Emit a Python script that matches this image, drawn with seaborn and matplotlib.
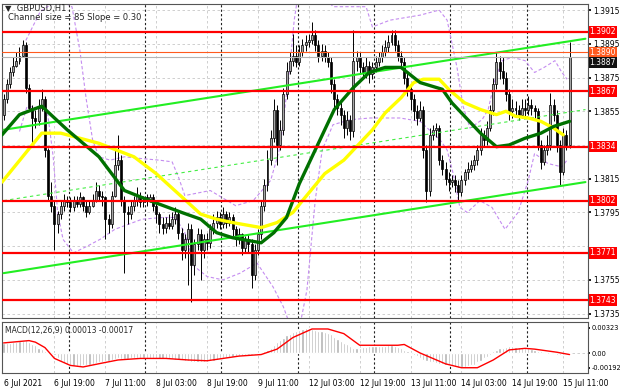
import numpy as np
import pandas as pd
import matplotlib
matplotlib.use("Agg")
import matplotlib.pyplot as plt
import seaborn as sns

# GBPUSD H1, 6 Jul 03:00 .. 15 Jul 13:00 (one value per hourly bar)
first_open = 1.3853
close = [
    1.3862, 1.3871, 1.3878, 1.3882, 1.3885, 1.3888, 1.3894, 1.3869, 1.3857, 1.3851,
    1.3849, 1.3857, 1.3862, 1.3832, 1.3805, 1.3799, 1.3788, 1.3794, 1.3799, 1.3802,
    1.3801, 1.3798, 1.3802, 1.3800, 1.3804, 1.3799, 1.3795, 1.3799, 1.3802, 1.3808,
    1.3805, 1.3804, 1.3791, 1.3788, 1.3805, 1.3823, 1.3826, 1.3802, 1.3795, 1.3794,
    1.3799, 1.3802, 1.3805, 1.3801, 1.3804, 1.3802, 1.3804, 1.3799, 1.3794, 1.3788,
    1.3786, 1.3789, 1.3787, 1.3791, 1.3794, 1.3783, 1.3773, 1.3779, 1.3785, 1.3764,
    1.3776, 1.3782, 1.3773, 1.3779, 1.3777, 1.3785, 1.3789, 1.3792, 1.3788, 1.3794,
    1.3789, 1.3792, 1.3785, 1.3779, 1.3782, 1.3774, 1.3779, 1.3776, 1.3758, 1.3773,
    1.3782, 1.3799, 1.3811, 1.3826, 1.3839, 1.3856, 1.3835, 1.3844, 1.3865, 1.3879,
    1.3885, 1.3888, 1.3884, 1.3890, 1.3894, 1.3896, 1.3897, 1.3900, 1.3894, 1.3888,
    1.3891, 1.3887, 1.3884, 1.3871, 1.3862, 1.3857, 1.3853, 1.3845, 1.3850, 1.3843,
    1.3885, 1.3887, 1.3881, 1.3878, 1.3882, 1.3877, 1.3881, 1.3884, 1.3887, 1.3890,
    1.3893, 1.3896, 1.3900, 1.3894, 1.3888, 1.3884, 1.3875, 1.3868, 1.3862, 1.3855,
    1.3851, 1.3856, 1.3832, 1.3808, 1.3841, 1.3844, 1.3845, 1.3826, 1.3821, 1.3815,
    1.3813, 1.3814, 1.3811, 1.3807, 1.3814, 1.3819, 1.3821, 1.3823, 1.3826, 1.3832,
    1.3841, 1.3838, 1.3845, 1.3856, 1.3871, 1.3884, 1.3879, 1.3875, 1.3865, 1.3855,
    1.3857, 1.3856, 1.3853, 1.3857, 1.3856, 1.3859, 1.3857, 1.3855, 1.3835, 1.3825,
    1.3832, 1.3835, 1.3859, 1.3853, 1.3835, 1.3819, 1.3841, 1.3835, 1.3887]
high = [
    1.3865, 1.3874, 1.3881, 1.3887, 1.3890, 1.3893, 1.3897, 1.3896, 1.3871, 1.3859,
    1.3856, 1.3862, 1.3868, 1.3864, 1.3833, 1.3813, 1.3802, 1.3796, 1.3802, 1.3806,
    1.3805, 1.3804, 1.3805, 1.3805, 1.3807, 1.3805, 1.3802, 1.3802, 1.3806, 1.3813,
    1.3811, 1.3808, 1.3805, 1.3794, 1.3808, 1.3832, 1.3841, 1.3829, 1.3805, 1.3799,
    1.3802, 1.3805, 1.3810, 1.3807, 1.3805, 1.3806, 1.3806, 1.3806, 1.3802, 1.3795,
    1.3792, 1.3792, 1.3794, 1.3795, 1.3798, 1.3795, 1.3786, 1.3782, 1.3789, 1.3788,
    1.3779, 1.3786, 1.3785, 1.3782, 1.3783, 1.3788, 1.3794, 1.3796, 1.3795, 1.3798,
    1.3796, 1.3795, 1.3794, 1.3787, 1.3786, 1.3783, 1.3781, 1.3782, 1.3779, 1.3776,
    1.3785, 1.3802, 1.3815, 1.3832, 1.3844, 1.3862, 1.3859, 1.3850, 1.3869, 1.3884,
    1.3890, 1.3901, 1.3894, 1.3894, 1.3898, 1.3900, 1.3901, 1.3908, 1.3903, 1.3897,
    1.3895, 1.3894, 1.3890, 1.3887, 1.3874, 1.3865, 1.3861, 1.3856, 1.3855, 1.3853,
    1.3903, 1.3891, 1.3890, 1.3884, 1.3887, 1.3885, 1.3884, 1.3888, 1.3890, 1.3894,
    1.3897, 1.3900, 1.3903, 1.3903, 1.3897, 1.3891, 1.3887, 1.3878, 1.3870, 1.3865,
    1.3859, 1.3861, 1.3858, 1.3835, 1.3845, 1.3847, 1.3848, 1.3847, 1.3829, 1.3825,
    1.3819, 1.3817, 1.3817, 1.3814, 1.3817, 1.3821, 1.3825, 1.3826, 1.3829, 1.3835,
    1.3845, 1.3844, 1.3849, 1.3859, 1.3875, 1.3890, 1.3888, 1.3887, 1.3878, 1.3868,
    1.3862, 1.3861, 1.3859, 1.3862, 1.3862, 1.3864, 1.3862, 1.3859, 1.3857, 1.3838,
    1.3835, 1.3841, 1.3866, 1.3862, 1.3856, 1.3838, 1.3845, 1.3844, 1.3896]
low = [
    1.3850, 1.3860, 1.3869, 1.3876, 1.3881, 1.3883, 1.3887, 1.3866, 1.3855, 1.3834,
    1.3845, 1.3847, 1.3855, 1.3828, 1.3802, 1.3795, 1.3773, 1.3783, 1.3791, 1.3796,
    1.3798, 1.3795, 1.3796, 1.3798, 1.3798, 1.3796, 1.3792, 1.3794, 1.3798, 1.3801,
    1.3802, 1.3799, 1.3779, 1.3783, 1.3786, 1.3804, 1.3820, 1.3799, 1.3759, 1.3788,
    1.3791, 1.3796, 1.3799, 1.3798, 1.3798, 1.3799, 1.3801, 1.3796, 1.3789, 1.3783,
    1.3782, 1.3783, 1.3785, 1.3785, 1.3788, 1.3779, 1.3767, 1.3768, 1.3752, 1.3742,
    1.3758, 1.3773, 1.3755, 1.3768, 1.3773, 1.3774, 1.3782, 1.3786, 1.3785, 1.3786,
    1.3786, 1.3787, 1.3781, 1.3775, 1.3776, 1.3770, 1.3771, 1.3771, 1.3750, 1.3755,
    1.3770, 1.3779, 1.3796, 1.3808, 1.3823, 1.3837, 1.3823, 1.3832, 1.3841, 1.3862,
    1.3877, 1.3882, 1.3881, 1.3882, 1.3888, 1.3891, 1.3893, 1.3895, 1.3891, 1.3884,
    1.3885, 1.3884, 1.3881, 1.3866, 1.3857, 1.3853, 1.3847, 1.3839, 1.3841, 1.3838,
    1.3840, 1.3879, 1.3877, 1.3874, 1.3875, 1.3872, 1.3874, 1.3878, 1.3882, 1.3884,
    1.3888, 1.3890, 1.3894, 1.3891, 1.3885, 1.3881, 1.3871, 1.3864, 1.3856, 1.3850,
    1.3847, 1.3849, 1.3827, 1.3801, 1.3805, 1.3838, 1.3840, 1.3823, 1.3817, 1.3811,
    1.3808, 1.3810, 1.3807, 1.3802, 1.3805, 1.3811, 1.3815, 1.3819, 1.3820, 1.3823,
    1.3829, 1.3834, 1.3835, 1.3843, 1.3853, 1.3868, 1.3874, 1.3871, 1.3861, 1.3850,
    1.3851, 1.3852, 1.3850, 1.3851, 1.3852, 1.3853, 1.3853, 1.3851, 1.3832, 1.3821,
    1.3823, 1.3829, 1.3832, 1.3849, 1.3831, 1.3811, 1.3817, 1.3832, 1.3833]

# moving averages, read at a few bars
ma_green_bar = [-0.5, 5, 12, 20, 30, 38, 46, 56, 62, 67, 72, 81, 85, 89, 93, 99, 104, 110,
                115, 120, 125, 131, 138, 141, 146, 150, 155, 159, 164, 169, 173, 178]
ma_green = [1.3841, 1.3853, 1.3858, 1.3844, 1.3828, 1.3808, 1.3802, 1.3795, 1.3791, 1.3783,
            1.3780, 1.3777, 1.3783, 1.3792, 1.3812, 1.3836, 1.3856, 1.3869, 1.3878, 1.3881,
            1.3881, 1.3872, 1.3868, 1.3860, 1.3850, 1.3842, 1.3834, 1.3835, 1.3839, 1.3842,
            1.3846, 1.3849]
ma_yellow_bar = [-0.5, 12, 18, 30, 41, 48, 55, 62, 67, 72, 81, 86, 91, 94, 101, 107, 112,
                 116, 120, 125, 129, 132, 137, 140, 145, 150, 155, 158, 161, 165, 169, 173, 176]
ma_yellow = [1.3813, 1.3842, 1.3842, 1.3836, 1.3828, 1.3818, 1.3806, 1.3794, 1.3791, 1.3789,
             1.3786, 1.3789, 1.3795, 1.3802, 1.3818, 1.3826, 1.3836, 1.3844, 1.3854, 1.3863,
             1.3872, 1.3874, 1.3874, 1.3868, 1.3860, 1.3856, 1.3853, 1.3855, 1.3852, 1.3851,
             1.3849, 1.3845, 1.3841]

# envelope bands (violet dashed)
band_up_bar = [7, 11.5, 14.6, 18.4, 21.5, 24, 26, 28, 30, 33.5, 38, 43, 49, 53, 55, 57, 65, 73,
               78.5, 84, 87, 90, 91.4, 92.6, 98, 103.6, 109, 114, 116, 121.5, 131, 137, 139.5,
               142.6, 144.5, 146.7, 150.5, 152.4, 154.6, 156.8, 160, 164, 167, 170, 173.4, 175.6, 177.2]
band_up = [1.3897, 1.3914, 1.3918, 1.3920, 1.3917, 1.3891, 1.3862, 1.3838, 1.3828, 1.3826,
           1.3828, 1.3827, 1.3826, 1.3825, 1.3816, 1.3805, 1.3808, 1.3799, 1.3802, 1.3814,
           1.3834, 1.3881, 1.3909, 1.3924, 1.3930, 1.3917, 1.3917, 1.3917, 1.3905, 1.3909,
           1.3912, 1.3915, 1.3909, 1.3881, 1.3858, 1.3845, 1.3850, 1.3856, 1.3874, 1.3885,
           1.3887, 1.3885, 1.3878, 1.3881, 1.3885, 1.3878, 1.3874]
band_lo_bar = [5, 7.4, 13.7, 15.6, 17, 18.7, 22, 26.3, 30.3, 35, 43.6, 50, 54, 57, 60, 64, 69,
               74.4, 79.7, 84.7, 88, 90.7, 93.2, 95.4, 98, 100.2, 103.6, 109, 115.3, 124.7, 131,
               137.3, 139.5, 141.4, 143.5, 145.8, 149.8, 153.6, 157.7, 161.8, 165, 167, 171.2,
               175.6, 177.2]
band_lo = [1.3843, 1.3858, 1.3856, 1.3828, 1.3795, 1.3779, 1.3771, 1.3775, 1.3779, 1.3785,
           1.3791, 1.3792, 1.3792, 1.3783, 1.3763, 1.3757, 1.3755, 1.3759, 1.3765, 1.3751,
           1.3739, 1.3725, 1.3728, 1.3749, 1.3802, 1.3832, 1.3847, 1.3850, 1.3851, 1.3851,
           1.3849, 1.3838, 1.3832, 1.3818, 1.3798, 1.3795, 1.3802, 1.3798, 1.3785, 1.3795,
           1.3814, 1.3830, 1.3824, 1.3822, 1.3826]

# regression channel ends (bar 0 and bar 183)
chan_bar = [0, 183]
chan_top = [1.3844, 1.3898]
chan_mid = [1.3802, 1.3856]
chan_bot = [1.3759, 1.3813]

levels = [1.3902, 1.3867, 1.3834, 1.3802, 1.3771, 1.3743]
ask_line = 1.3890
last_price = 1.3887
grid_prices = [1.3915, 1.3895, 1.3875, 1.3855, 1.3835, 1.3815, 1.3795, 1.3775, 1.3755, 1.3735]
price_ticks = [1.3915, 1.3895, 1.3875, 1.3855, 1.3815, 1.3795, 1.3755, 1.3735]

# MACD main (x1e-4), one per bar
macd = [13, 13, 13, 14, 14, 15, 16, 17, 14, 12, 10, 7, 5, 3, 1, 0, -3, -7, -10, -13,
        -15, -16, -17, -17, -17, -16, -16, -15, -14, -13, -12, -11, -10, -10, -9, -8, -7, -8,
        -8, -8, -7, -7, -7, -6, -6, -7, -7, -7, -8, -8, -8, -8, -8, -8, -9, -9, -9,
        -10, -10, -11, -11, -12, -11, -11, -11, -10, -10, -9, -8, -7, -6, -6, -5, -5, -4, -4,
        -3, -3, -2, -2, -1, -1, 2, 4, 7, 10, 14, 17, 20, 23, 25, 27, 29, 30, 31, 32, 32,
        31, 30, 29, 28, 27, 26, 24, 21, 18, 15, 13, 11, 9, 7, 7, 7, 8, 8, 9, 9, 9, 9, 9,
        9, 10, 10, 9, 8, 6, 4, 2, 0, -2, -4, -7, -9, -10, -11, -12, -13, -14, -14, -15,
        -16, -17, -18, -19, -19, -18, -17, -16, -15, -12, -10, -7, -5, -2, 2, 4, 6, 7, 8,
        9, 9, 8, 8, 7, 7, 6, 5, 4, 3, 2, 1, 0, -1, -1, -2, -2, -2, -1, 1]
sig_bar = [0, 8, 10, 13, 16, 21, 25, 31, 36, 43, 51, 58, 64, 69, 74, 81, 86, 91, 97, 102,
           107, 112, 124, 126, 131, 139, 144, 149, 154, 159, 164, 167, 174, 178]
sig_val = [13, 16, 14, 7, -7, -16, -18, -13, -9, -7, -7, -9, -10, -7, -4, -2, 5, 20, 31, 31,
           25, 10, 10, 11, 0, -14, -19, -19, -9, 4, 6, 5, 1, -2]

time_labels = ["6 Jul 2021", "6 Jul 19:00", "7 Jul 11:00", "8 Jul 03:00", "8 Jul 19:00",
               "9 Jul 11:00", "12 Jul 03:00", "12 Jul 19:00", "13 Jul 11:00", "14 Jul 03:00",
               "14 Jul 19:00", "15 Jul 11:00"]
label_bars = [0, 16, 32, 48, 64, 80, 96, 112, 128, 144, 160, 176]
day_bars = [21, 45, 69, 93, 117, 141, 165]

sns.set_theme(style="white")
plt.rcParams["font.family"] = ["DejaVu Sans"]

df = pd.DataFrame({"close": close, "high": high, "low": low})
df["open"] = [first_open] + close[:-1]
df["bar"] = np.arange(len(df))
up = df["close"] >= df["open"]

fig = plt.figure(figsize=(6.2, 3.88), dpi=100)
ax = fig.add_axes([2 / 620, 1 - 318 / 388, 586 / 620, 314 / 388])
axm = fig.add_axes([2 / 620, 1 - 373 / 388, 586 / 620, 51 / 388])

grid_kw = dict(color="#c8c8c8", lw=0.6, ls=(0, (3, 3)), zorder=0)
for a in (ax, axm):
    for b in label_bars[1:]:
        a.axvline(b, **grid_kw)
    for b in day_bars:
        a.axvline(b - 0.5, color="#222222", lw=0.8, ls=(0, (2, 2)), zorder=1)
for p in grid_prices:
    ax.axhline(p, **grid_kw)
axm.axhline(0, **grid_kw)

# candles
ax.vlines(df["bar"], df["low"], df["high"], color="black", lw=0.7, zorder=3)
ax.bar(df["bar"][up], (df["close"] - df["open"])[up].clip(lower=0.00003), bottom=df["open"][up],
       width=0.62, color="#a6a6a6", edgecolor="black", lw=0.5, zorder=4)
ax.bar(df["bar"][~up], (df["open"] - df["close"])[~up], bottom=df["close"][~up],
       width=0.62, color="black", edgecolor="black", lw=0.5, zorder=4)

# channel
sns.lineplot(x=chan_bar, y=chan_top, ax=ax, color="#22ee22", lw=1.5, zorder=5)
sns.lineplot(x=chan_bar, y=chan_bot, ax=ax, color="#22ee22", lw=1.5, zorder=5)
sns.lineplot(x=chan_bar, y=chan_mid, ax=ax, color="#44ee44", lw=0.8, ls=(0, (3, 3)), zorder=5)

# bands and averages
sns.lineplot(x=band_up_bar, y=band_up, ax=ax, color="#c48cf0", lw=0.8, ls=(0, (3, 2)), zorder=2)
sns.lineplot(x=band_lo_bar, y=band_lo, ax=ax, color="#c48cf0", lw=0.8, ls=(0, (3, 2)), zorder=2)
sns.lineplot(x=ma_yellow_bar, y=ma_yellow, ax=ax, color="#ffff00", lw=2.4, zorder=6)
sns.lineplot(x=ma_green_bar, y=ma_green, ax=ax, color="#007000", lw=2.4, zorder=6)

# horizontal levels
for lv in levels:
    ax.axhline(lv, color="#ff0000", lw=1.6, zorder=7)
ax.axhline(ask_line, color="#ff5a1e", lw=0.8, zorder=7)
ax.axhline(last_price, color="#b4b4b4", lw=0.8, zorder=7)

ax.set_xlim(-0.5, 183.8)
ax.set_ylim(1.37324, 1.39186)
ax.set_xticks([])
ax.yaxis.tick_right()
ax.set_yticks(price_ticks)
ax.set_yticklabels([f"{p:.4f}" for p in price_ticks], fontsize=5.5)
ax.tick_params(axis="y", length=2, pad=2, colors="black")

lab_kw = dict(xycoords=("axes fraction", "data"), textcoords="offset points",
              ha="left", va="center", fontsize=5.5, annotation_clip=False, zorder=10)
for lv in levels:
    ax.annotate(f"{lv:.4f}", xy=(1, lv), xytext=(1.2, 0), color="white",
                bbox=dict(boxstyle="square,pad=0.15", fc="#ff0000", ec="none"), **lab_kw)
ax.annotate(f"{ask_line:.4f}", xy=(1, ask_line), xytext=(1.2, -0.5), color="white",
            bbox=dict(boxstyle="square,pad=0.15", fc="#ff5a1e", ec="none"), **lab_kw)
ax.annotate(f"{last_price:.4f}", xy=(1, last_price), xytext=(1.2, -3.5), color="white",
            bbox=dict(boxstyle="square,pad=0.15", fc="#111111", ec="none"), **lab_kw)

# MACD panel
axm.bar(df["bar"], np.array(macd) / 1e4, width=0.7, color="#b4b4b4", zorder=2)
sns.lineplot(x=sig_bar, y=np.array(sig_val) / 1e4, ax=axm, color="#ff0000", lw=1.0, zorder=3)
axm.set_xlim(-0.5, 183.8)
axm.set_ylim(-0.00258, 0.0040)
axm.yaxis.tick_right()
axm.set_yticks([0.00323, 0.0, -0.00192])
axm.set_yticklabels(["0.00323", "0.00", "-0.00192"], fontsize=4.8)
axm.tick_params(axis="y", length=1.5, pad=1, colors="black")
axm.set_xticks(label_bars)
axm.set_xticklabels(time_labels, fontsize=5.5, ha="left")
axm.tick_params(axis="x", length=3, pad=1, colors="black")
axm.set_ylabel("")

for a in (ax, axm):
    for s in a.spines.values():
        s.set_color("#555555")
        s.set_linewidth(0.8)

fig.text(5 / 620, 1 - 8 / 388, "\u25bc  GBPUSD,H1", fontsize=6, va="center", ha="left")
fig.text(8 / 620, 1 - 18 / 388, "Channel size = 85 Slope = 0.30", fontsize=6, va="center", ha="left")
fig.text(5 / 620, 1 - 331 / 388, "MACD(12,26,9) 0.00013 -0.00017", fontsize=5.5, va="center", ha="left")

fig.savefig("out.png", dpi=100)
